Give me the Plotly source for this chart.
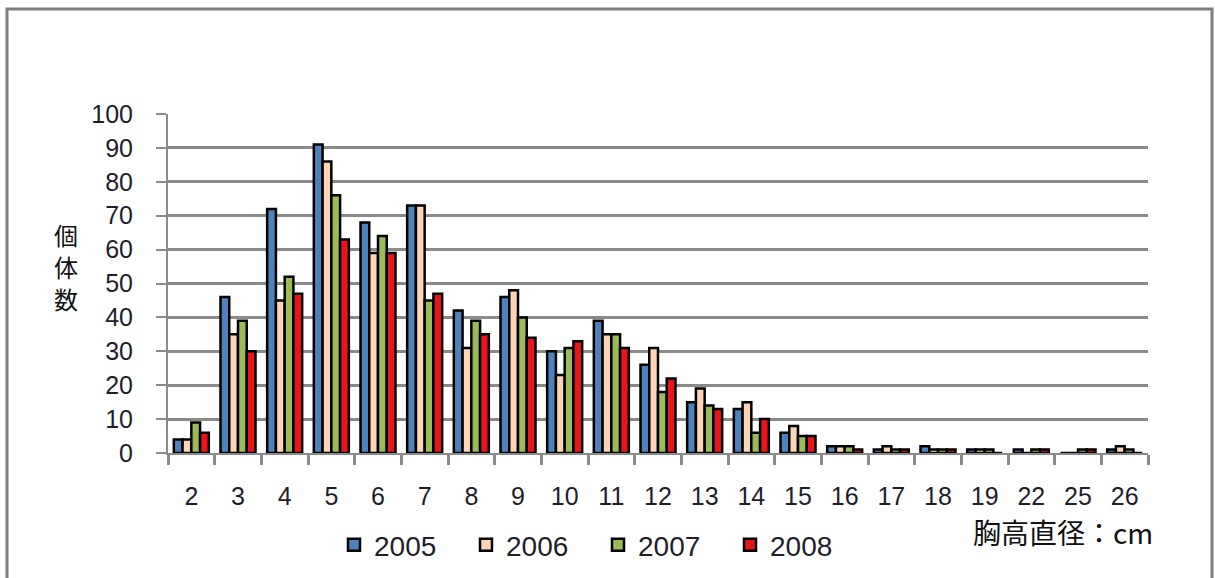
import plotly.graph_objects as go

# Diameter classes (cm) and tree counts per survey year
dbh_classes = ['2', '3', '4', '5', '6', '7', '8', '9', '10', '11', '12',
               '13', '14', '15', '16', '17', '18', '19', '22', '25', '26']
count_2005 = [4, 46, 72, 91, 68, 73, 42, 46, 30, 39, 26, 15, 13, 6, 2, 1, 2, 1, 1, 0, 1]
count_2006 = [4, 35, 45, 86, 59, 73, 31, 48, 23, 35, 31, 19, 15, 8, 2, 2, 1, 1, 0, 0, 2]
count_2007 = [9, 39, 52, 76, 64, 45, 39, 40, 31, 35, 18, 14, 6, 5, 2, 1, 1, 1, 1, 1, 1]
count_2008 = [6, 30, 47, 63, 59, 47, 35, 34, 33, 31, 22, 13, 10, 5, 1, 1, 1, 0, 1, 1, 0]

y_title_chars = ['個', '体', '数']

series = [
    ('2005', count_2005, '#4F81BD'),
    ('2006', count_2006, '#FBD5B5'),
    ('2007', count_2007, '#9BBB59'),
    ('2008', count_2008, '#E8161B'),
]

W, H = 1215, 578
L, R, T, B = 168, 67, 114, 125
pw, ph = W - L - R, H - T - B

fig = go.Figure()
for name, vals, col in series:
    fig.add_trace(go.Bar(
        x=dbh_classes, y=vals, name=name,
        marker=dict(color=col, line=dict(color='#000000', width=2.5)),
    ))

tick_font = dict(family='Liberation Sans, Arial, sans-serif', size=25, color='#1e1e2a')
grey = '#8a8a8a'

fig.update_layout(
    width=W, height=H,
    margin=dict(l=L, r=R, t=T, b=B, autoexpand=False),
    paper_bgcolor='white', plot_bgcolor='white',
    barmode='group', bargap=0.25, bargroupgap=0.0,
    showlegend=True,
    legend=dict(
        orientation='h', x=(334 - L) / pw, xanchor='left',
        y=(453 - 545) / ph, yanchor='middle',
        font=dict(family='Liberation Sans, Arial, sans-serif', size=28, color='#1e1e2a'),
        entrywidth=87, bgcolor='rgba(0,0,0,0)', traceorder='normal',
    ),
    xaxis=dict(
        type='category', tickson='boundaries', ticks='outside', ticklen=10,
        tickwidth=3, tickcolor=grey, showline=True, linecolor=grey, linewidth=2,
        tickfont=tick_font, ticklabelstandoff=20, showgrid=False, fixedrange=True,
    ),
    yaxis=dict(
        range=[0, 100], dtick=10, ticks='outside', ticklen=10, tickwidth=2,
        tickcolor=grey, showline=True, linecolor=grey, linewidth=2,
        showgrid=True, gridcolor=grey, gridwidth=2.5, zeroline=False,
        tickfont=tick_font, ticklabelstandoff=18, fixedrange=True,
    ),
)

# Vertical y-axis title, one character per line
for i, ch in enumerate(y_title_chars):
    fig.add_annotation(
        text=ch, xref='paper', yref='paper',
        x=(66 - L) / pw, y=(453 - (234 + 32 * i)) / ph,
        xanchor='center', yanchor='middle', showarrow=False,
        font=dict(family='Noto Sans CJK JP', size=24, color='#111111'),
    )

fig.add_annotation(
    text='胸高直径：cm', xref='paper', yref='paper',
    x=(1155 - L) / pw, y=(453 - 532) / ph, xanchor='right', yanchor='middle',
    showarrow=False,
    font=dict(family='Noto Sans CJK JP', size=28, color='#111111'),
)

# Outer chart frame
fig.add_shape(
    type='rect', xref='paper', yref='paper',
    x0=(7 - L) / pw, x1=(1212 - L) / pw,
    y0=(453 - 600) / ph, y1=(453 - 9) / ph,
    line=dict(color='#7f7f7f', width=3), fillcolor='rgba(0,0,0,0)', layer='below',
)

fig.write_html('out.html')
